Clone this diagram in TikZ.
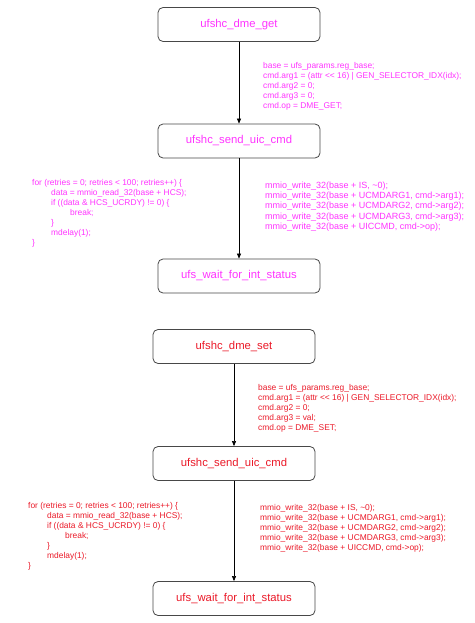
\documentclass[tikz,border=0pt]{standalone}
\usepackage{fontspec}
\setmainfont{Liberation Sans}
\usetikzlibrary{arrows.meta}
\definecolor{mag}{RGB}{255,51,255}
\definecolor{rd}{RGB}{235,25,40}
\begin{document}
\lineskiplimit=-20pt
\begin{tikzpicture}[x=1pt,y=-1pt,
 fbox/.style={draw=black!72, line width=0.8pt, rounded corners=5pt, minimum width=162pt, minimum height=34pt, inner sep=0pt, font=\fontsize{11.3}{13}\selectfont},
 codeblk/.style={anchor=north west, align=left, inner sep=0pt},
 cA/.style={codeblk, font=\fontsize{8.4}{10}\selectfont},
 cW/.style={codeblk, font=\fontsize{9}{10.3}\selectfont},
 arr/.style={-{Triangle[length=5pt,width=4pt]}, line width=0.6pt, black}]
\useasboundingbox[fill=white] (0,0) rectangle (474,623);
% top half
\node[fbox, text=mag] (b1) at (239,24.5) {ufshc\_dme\_get};
\node[fbox, text=mag] (b2) at (239,141) {ufshc\_send\_uic\_cmd};
\node[fbox, text=mag] (b3) at (239,276) {ufs\_wait\_for\_int\_status};
\draw[arr] (b1) -- (b2);
\draw[arr] (b2) -- (b3);
\node[cA, text=mag] (t1) at (263,62) {base = ufs\_params.reg\_base;\\
cmd.arg1 = (attr <{}< 16) | GEN\_SELECTOR\_IDX(idx);\\
cmd.arg2 = 0;\\
cmd.arg3 = 0;\\
cmd.op = DME\_GET;};
\node[cA, text=mag] (l1) at (32,179) {for (retries = 0; retries < 100; retries++) \{\\
\hspace*{19pt}data = mmio\_read\_32(base + HCS);\\
\hspace*{19pt}if ((data \& HCS\_UCRDY) != 0) \{\\
\hspace*{38pt}break;\\
\hspace*{19pt}\}\\
\hspace*{19pt}mdelay(1);\\
\}};
\node[cW, text=mag] (m1) at (265,181.5) {mmio\_write\_32(base + IS, \textasciitilde0);\\
mmio\_write\_32(base + UCMDARG1, cmd->arg1);\\
mmio\_write\_32(base + UCMDARG2, cmd->arg2);\\
mmio\_write\_32(base + UCMDARG3, cmd->arg3);\\
mmio\_write\_32(base + UICCMD, cmd->op);};
% bottom half
\node[fbox, text=rd] (b4) at (234,346.5) {ufshc\_dme\_set};
\node[fbox, text=rd] (b5) at (234,463.5) {ufshc\_send\_uic\_cmd};
\node[fbox, text=rd] (b6) at (234,598.5) {ufs\_wait\_for\_int\_status};
\draw[arr] (b4) -- (b5);
\draw[arr] (b5) -- (b6);
\node[cA, text=rd] (t2) at (258,384) {base = ufs\_params.reg\_base;\\
cmd.arg1 = (attr <{}< 16) | GEN\_SELECTOR\_IDX(idx);\\
cmd.arg2 = 0;\\
cmd.arg3 = val;\\
cmd.op = DME\_SET;};
\node[cA, text=rd] (l2) at (28,502) {for (retries = 0; retries < 100; retries++) \{\\
\hspace*{19pt}data = mmio\_read\_32(base + HCS);\\
\hspace*{19pt}if ((data \& HCS\_UCRDY) != 0) \{\\
\hspace*{37pt}break;\\
\hspace*{19pt}\}\\
\hspace*{19pt}mdelay(1);\\
\}};
\node[cA, text=rd] (m2) at (260,504) {mmio\_write\_32(base + IS, \textasciitilde0);\\
mmio\_write\_32(base + UCMDARG1, cmd->arg1);\\
mmio\_write\_32(base + UCMDARG2, cmd->arg2);\\
mmio\_write\_32(base + UCMDARG3, cmd->arg3);\\
mmio\_write\_32(base + UICCMD, cmd->op);};
\end{tikzpicture}
\end{document}
